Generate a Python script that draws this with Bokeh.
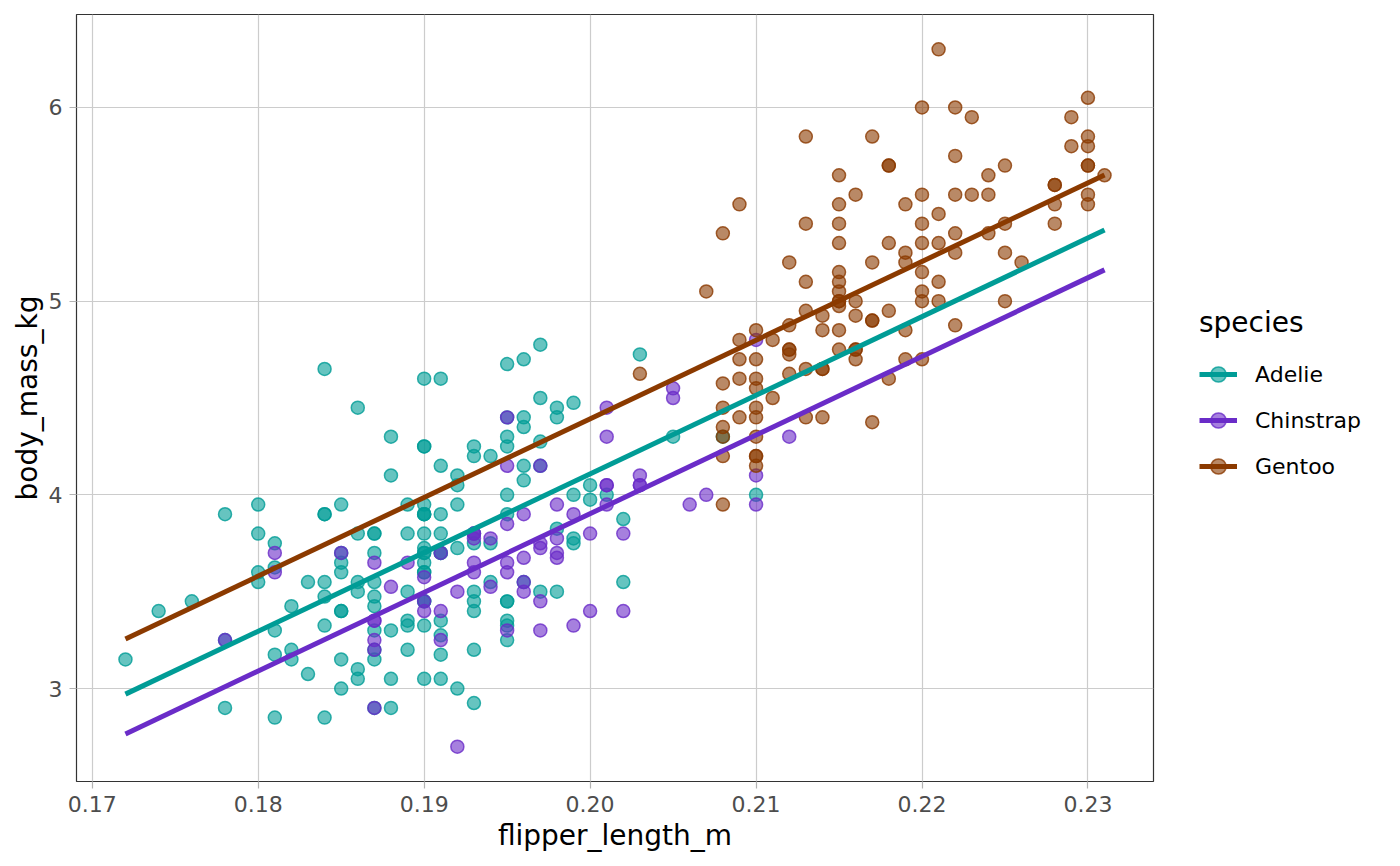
import numpy as np
from bokeh.plotting import figure
from bokeh.models import Range1d, FixedTicker, PrintfTickFormatter, Legend, LegendItem
from bokeh.embed import file_html
from bokeh.resources import INLINE

# flipper length (m) and body mass (kg) per species
adelie_flipper = [0.181, 0.186, 0.195, 0.193, 0.190, 0.181, 0.195,
                  0.182, 0.191, 0.198, 0.185, 0.195, 0.197, 0.184, 0.194, 0.174,
                  0.180, 0.189, 0.185, 0.180, 0.187, 0.183, 0.187, 0.172, 0.180, 0.178,
                  0.178, 0.188, 0.184, 0.195, 0.196, 0.190, 0.180, 0.181, 0.184, 0.182,
                  0.195, 0.186, 0.196, 0.185, 0.190, 0.182, 0.190, 0.191, 0.186,
                  0.188, 0.190, 0.200, 0.187, 0.191, 0.186, 0.193, 0.181, 0.194, 0.185,
                  0.195, 0.185, 0.192, 0.184, 0.192, 0.195, 0.188, 0.190, 0.198, 0.190,
                  0.190, 0.196, 0.197, 0.190, 0.195, 0.191, 0.184, 0.187, 0.195, 0.189,
                  0.196, 0.187, 0.193, 0.191, 0.194, 0.190, 0.189, 0.189, 0.190, 0.202,
                  0.205, 0.185, 0.186, 0.187, 0.208, 0.190, 0.196, 0.178, 0.192, 0.192,
                  0.203, 0.183, 0.190, 0.193, 0.184, 0.199, 0.190, 0.181, 0.197, 0.198,
                  0.191, 0.193, 0.197, 0.191, 0.196, 0.188, 0.199, 0.189, 0.189, 0.187,
                  0.198, 0.176, 0.202, 0.186, 0.199, 0.191, 0.195, 0.191, 0.210, 0.190,
                  0.197, 0.193, 0.199, 0.187, 0.190, 0.191, 0.200, 0.185, 0.193, 0.193,
                  0.187, 0.188, 0.190, 0.192, 0.185, 0.190, 0.184, 0.195, 0.193, 0.187,
                  0.201]
adelie_mass = [3.750, 3.800, 3.250, 3.450, 3.650, 3.625, 4.675,
               3.200, 3.800, 4.400, 3.700, 3.450, 4.500, 3.325, 4.200, 3.400,
               3.600, 3.800, 3.950, 3.800, 3.800, 3.550, 3.200, 3.150, 3.950, 3.250,
               3.900, 3.300, 3.900, 3.325, 4.150, 3.950, 3.550, 3.300, 4.650, 3.150,
               3.900, 3.100, 4.400, 3.000, 4.600, 3.425, 3.450, 4.150, 3.500,
               4.300, 3.450, 4.050, 2.900, 3.700, 3.550, 3.800, 2.850, 3.750, 3.150,
               4.400, 3.600, 4.050, 2.850, 3.950, 3.350, 4.100, 3.050, 4.450, 3.600,
               3.900, 3.550, 4.150, 3.700, 4.250, 3.700, 3.900, 3.550, 4.000, 3.200,
               4.700, 3.800, 4.200, 3.350, 3.550, 3.800, 3.500, 3.950, 3.600, 3.550,
               4.300, 3.400, 4.450, 3.300, 4.300, 3.700, 4.350, 2.900, 4.100, 3.725,
               4.725, 3.075, 4.250, 2.925, 3.550, 3.750, 3.900, 3.175, 4.775, 3.825,
               4.600, 3.200, 4.275, 3.900, 4.075, 2.900, 3.775, 3.350, 3.325, 3.150,
               3.500, 3.450, 3.875, 3.050, 4.000, 3.275, 4.300, 3.050, 4.000, 3.325,
               3.500, 3.500, 4.475, 3.425, 3.900, 3.175, 3.975, 3.400, 4.250, 3.400,
               3.475, 3.050, 3.725, 3.000, 3.650, 4.250, 3.475, 3.450, 3.750, 3.700,
               4.000]

chinstrap_flipper = [0.192, 0.196, 0.193, 0.188, 0.197, 0.198, 0.178, 0.197, 0.195, 0.198,
                     0.193, 0.194, 0.185, 0.201, 0.190, 0.201, 0.197, 0.181, 0.190, 0.195,
                     0.181, 0.191, 0.187, 0.193, 0.195, 0.197, 0.200, 0.200, 0.191, 0.205,
                     0.187, 0.201, 0.187, 0.203, 0.195, 0.199, 0.195, 0.210, 0.192, 0.205,
                     0.210, 0.187, 0.196, 0.196, 0.196, 0.201, 0.190, 0.212, 0.187, 0.198,
                     0.199, 0.201, 0.193, 0.203, 0.187, 0.197, 0.191, 0.203, 0.202, 0.194,
                     0.206, 0.189, 0.195, 0.207, 0.202, 0.193, 0.210, 0.198]
chinstrap_mass = [3.500, 3.900, 3.650, 3.525, 3.725, 3.950, 3.250, 3.750, 4.150, 3.700,
                  3.800, 3.775, 3.700, 4.050, 3.575, 4.050, 3.300, 3.700, 3.450, 4.400,
                  3.600, 3.400, 2.900, 3.800, 3.300, 4.150, 3.400, 3.800, 3.700, 4.550,
                  3.200, 4.300, 3.350, 4.100, 3.600, 3.900, 3.850, 4.800, 2.700, 4.500,
                  3.950, 3.650, 3.550, 3.500, 3.675, 4.450, 3.400, 4.300, 3.250, 3.675,
                  3.325, 3.950, 3.600, 4.050, 3.350, 3.450, 3.250, 4.050, 3.800, 3.525,
                  3.950, 3.650, 3.650, 4.000, 3.400, 3.775, 4.100, 3.775]

gentoo_flipper = [0.211, 0.230, 0.210, 0.218, 0.215, 0.210, 0.211, 0.219, 0.209, 0.215,
                  0.214, 0.216, 0.214, 0.213, 0.210, 0.217, 0.210, 0.221, 0.209, 0.222,
                  0.218, 0.215, 0.213, 0.215, 0.215, 0.215, 0.215, 0.210, 0.220,
                  0.222, 0.209, 0.207, 0.230, 0.220, 0.220, 0.213, 0.219, 0.208, 0.208,
                  0.208, 0.225, 0.210, 0.216, 0.222, 0.217, 0.210, 0.225, 0.213, 0.215,
                  0.210, 0.220, 0.210, 0.225, 0.217, 0.220, 0.208, 0.220, 0.208, 0.224,
                  0.208, 0.221, 0.214, 0.231, 0.219, 0.230, 0.229, 0.220, 0.223,
                  0.216, 0.221, 0.221, 0.217, 0.216, 0.230, 0.209, 0.220, 0.215, 0.223,
                  0.212, 0.221, 0.212, 0.224, 0.212, 0.228, 0.218, 0.218, 0.212, 0.230,
                  0.218, 0.228, 0.212, 0.224, 0.214, 0.226, 0.216, 0.222, 0.203, 0.225,
                  0.219, 0.228, 0.215, 0.228, 0.215, 0.210, 0.219, 0.208, 0.209,
                  0.216, 0.229, 0.213, 0.230, 0.217, 0.230, 0.222, 0.214, 0.215,
                  0.222, 0.212, 0.213]
gentoo_mass = [4.500, 5.700, 4.450, 5.700, 5.400, 4.550, 4.800, 5.200, 4.400, 5.150,
               4.650, 5.550, 4.650, 5.850, 4.200, 5.850, 4.150, 6.300, 4.800, 5.350,
               5.700, 5.000, 4.400, 5.050, 5.000, 5.100, 5.650, 4.600, 5.550,
               5.250, 4.700, 5.050, 6.050, 5.150, 5.400, 4.950, 5.250, 4.350, 5.350,
               3.950, 5.700, 4.300, 4.750, 5.550, 4.900, 4.200, 5.400, 5.100, 5.300,
               4.850, 5.300, 4.400, 5.000, 4.900, 5.050, 4.300, 5.000, 4.450, 5.550,
               4.200, 5.300, 4.400, 5.650, 4.700, 5.700, 5.800, 4.700, 5.550,
               4.750, 5.000, 5.100, 5.200, 4.700, 5.800, 4.600, 6.000, 4.750, 5.950,
               4.625, 5.450, 4.725, 5.350, 4.750, 5.600, 4.600, 5.300, 4.875, 5.550,
               4.950, 5.400, 4.750, 5.650, 4.850, 5.200, 4.925, 4.875, 4.625, 5.250,
               4.850, 5.600, 4.975, 5.500, 5.500, 4.700, 5.500, 4.575, 5.500,
               5.000, 5.950, 4.650, 5.500, 4.375, 5.850, 6.000, 4.925, 4.850,
               5.750, 5.200, 5.400]

species = ["Adelie", "Chinstrap", "Gentoo"]
colors = ["#009c96", "#6a2cc8", "#8b3a00"]
flippers = [adelie_flipper, chinstrap_flipper, gentoo_flipper]
masses = [adelie_mass, chinstrap_mass, gentoo_mass]

# parallel-slopes fit: body_mass ~ flipper_length + species
X = []
Y = []
for k in range(3):
    for f, m in zip(flippers[k], masses[k]):
        X.append([1.0, f, 1.0 if k == 1 else 0.0, 1.0 if k == 2 else 0.0])
        Y.append(m)
coef = np.linalg.lstsq(np.array(X), np.array(Y), rcond=None)[0]
all_x = adelie_flipper + chinstrap_flipper + gentoo_flipper
xfit = np.array([min(all_x), max(all_x)])

p = figure(frame_width=1077, frame_height=767, output_backend="svg", toolbar_location=None,
           x_range=Range1d(0.16905, 0.23395), y_range=Range1d(2.52, 6.48),
           min_border_left=76, min_border_right=239, min_border_top=14, min_border_bottom=77,
           x_axis_label="flipper_length_m", y_axis_label="body_mass_kg")
p.background_fill_color = "white"
p.outline_line_color = "#333333"
p.outline_line_width = 1.2

font = "DejaVu Sans"
for ax in [p.xaxis[0], p.yaxis[0]]:
    ax.axis_line_color = None
    ax.major_tick_line_color = "#b3b3b3"
    ax.major_tick_line_width = 1.2
    ax.major_tick_out = 7
    ax.major_tick_in = 0
    ax.minor_tick_line_color = None
    ax.major_label_text_font = font
    ax.major_label_text_font_size = "22px"
    ax.major_label_text_color = "#4d4d4d"
    ax.major_label_standoff = 7
    ax.axis_label_text_font = font
    ax.axis_label_text_font_size = "28px"
    ax.axis_label_text_font_style = "normal"
    ax.axis_label_text_color = "black"
    ax.axis_label_standoff = 4
p.yaxis[0].axis_label_standoff = 2

p.xaxis.ticker = FixedTicker(ticks=[0.17, 0.18, 0.19, 0.20, 0.21, 0.22, 0.23])
p.xaxis.formatter = PrintfTickFormatter(format="%.2f")
p.yaxis.ticker = FixedTicker(ticks=[3, 4, 5, 6])
p.xgrid.grid_line_color = "#cccccc"
p.ygrid.grid_line_color = "#cccccc"
p.xgrid.grid_line_width = 1.2
p.ygrid.grid_line_width = 1.2

items = []
dots = []
for k in range(3):
    dots.append(p.scatter(flippers[k], masses[k], size=13, fill_color=colors[k], fill_alpha=0.6,
                          line_color=colors[k], line_alpha=0.8, line_width=1.5))
for k in range(3):
    yfit = coef[0] + coef[1] * xfit + (coef[2] if k == 1 else 0) + (coef[3] if k == 2 else 0)
    ln = p.line(xfit, yfit, line_color=colors[k], line_width=5)
    items.append(LegendItem(label=species[k], renderers=[ln, dots[k]]))

legend = Legend(items=items, location=(46, 292), title="species",
                title_text_font=font, title_text_font_size="28px", title_standoff=12,
                title_text_font_style="normal", title_text_color="black",
                label_text_font=font, label_text_font_size="22px", label_standoff=18,
                label_text_color="black",
                glyph_width=38, glyph_height=46, label_height=46, spacing=0,
                padding=0, margin=0, border_line_color=None, background_fill_alpha=0)
p.add_layout(legend, "right")

open("out.html", "w").write(file_html(p, INLINE))
